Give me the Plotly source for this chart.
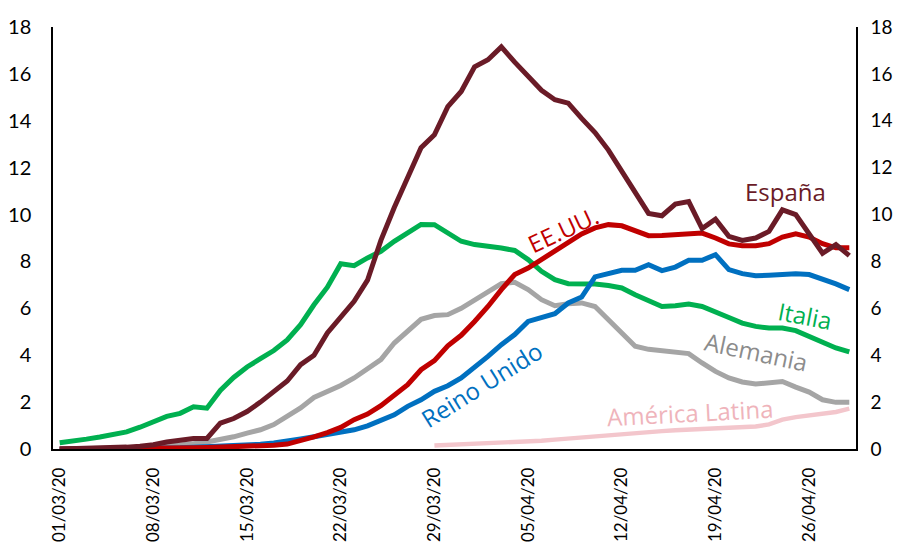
import pandas as pd
import plotly.graph_objects as go

# ---- data ----
dates = pd.date_range("2020-03-01", periods=60, freq="D")

espana = [0.0, 0.01, 0.02, 0.03, 0.05, 0.08, 0.12, 0.18, 0.3, 0.4,
          0.45, 0.45, 1.1, 1.3, 1.6, 2.0, 2.45, 2.9, 3.6, 4.0,
          4.95, 5.6, 6.3, 7.2, 8.9, 10.3, 11.6, 12.85, 13.4, 14.6,
          15.25, 16.3, 16.6, 17.15, 16.5, 15.9, 15.3, 14.9, 14.75, 14.1,
          13.5, 12.75, 11.85, 11.0, 10.05, 9.95, 10.45, 10.55, 9.4, 9.8,
          9.07, 8.9, 9.0, 9.28, 10.2, 10.0, 9.14, 8.35, 8.72, 8.25]

eeuu = [0.0, 0.0, 0.0, 0.0, 0.01, 0.01, 0.02, 0.02, 0.03, 0.04,
        0.05, 0.06, 0.07, 0.09, 0.1, 0.12, 0.16, 0.21, 0.35, 0.52,
        0.7, 0.92, 1.25, 1.49, 1.85, 2.32, 2.74, 3.38, 3.77, 4.4,
        4.85, 5.44, 6.08, 6.8, 7.44, 7.72, 8.08, 8.43, 8.79, 9.17,
        9.43, 9.57, 9.52, 9.31, 9.1, 9.11, 9.14, 9.18, 9.21, 9.0,
        8.75, 8.67, 8.67, 8.76, 9.04, 9.18, 9.04, 8.76, 8.58, 8.58]

italia = [0.27, 0.33, 0.42, 0.51, 0.62, 0.73, 0.93, 1.15, 1.39, 1.52,
          1.8, 1.74, 2.5, 3.05, 3.5, 3.85, 4.2, 4.65, 5.3, 6.15,
          6.9, 7.9, 7.82, 8.15, 8.43, 8.86, 9.21, 9.58, 9.57, 9.2,
          8.86, 8.72, 8.67, 8.57, 8.47, 8.08, 7.58, 7.22, 7.05, 7.05,
          7.04, 6.97, 6.87, 6.58, 6.32, 6.08, 6.11, 6.18, 6.08, 5.87,
          5.61, 5.37, 5.23, 5.16, 5.16, 5.05, 4.8, 4.52, 4.31, 4.14]

alemania = [0.0, 0.0, 0.0, 0.01, 0.02, 0.03, 0.05, 0.08, 0.12, 0.18,
            0.22, 0.3, 0.4, 0.52, 0.68, 0.82, 1.04, 1.39, 1.75, 2.2,
            2.43, 2.71, 3.03, 3.41, 3.81, 4.52, 5.05, 5.53, 5.69, 5.73,
            6.0, 6.37, 6.72, 7.05, 7.11, 6.8, 6.37, 6.11, 6.2, 6.23,
            6.08, 5.52, 4.95, 4.38, 4.25, 4.19, 4.14, 4.07, 3.67, 3.31,
            3.03, 2.86, 2.77, 2.82, 2.88, 2.64, 2.43, 2.1, 1.99, 1.99]

reino_unido = [0.0, 0.0, 0.0, 0.0, 0.01, 0.01, 0.02, 0.03, 0.04, 0.05,
               0.07, 0.09, 0.11, 0.14, 0.17, 0.2, 0.26, 0.32, 0.43, 0.52,
               0.61, 0.71, 0.82, 0.99, 1.25, 1.46, 1.82, 2.1, 2.46, 2.7,
               3.03, 3.46, 3.95, 4.45, 4.88, 5.44, 5.59, 5.77, 6.23, 6.48,
               7.34, 7.48, 7.62, 7.62, 7.86, 7.61, 7.76, 8.05, 8.05, 8.29,
               7.65, 7.48, 7.39, 7.41, 7.44, 7.47, 7.44, 7.25, 7.04, 6.8]

america_latina = [None] * 28 + [
    0.15, 0.17, 0.19, 0.21, 0.24, 0.26, 0.28, 0.31, 0.35, 0.4,
    0.45, 0.5, 0.55, 0.6, 0.64, 0.68, 0.72, 0.76, 0.8, 0.83,
    0.86, 0.88, 0.9, 0.92, 0.96, 1.05, 1.25, 1.36, 1.42, 1.48,
    1.58, 1.72]

y_ticks = list(range(0, 19, 2))

# ---- styles ----
C_ES = "#6A1B27"
C_US = "#C00000"
C_IT = "#00B050"
C_DE = "#A5A5A5"
C_UK = "#0070C0"
C_LA = "#F3C6CC"

fig = go.Figure()

def add(y, color, width=5, yaxis="y"):
    fig.add_trace(go.Scatter(x=dates, y=y, mode="lines",
                             line=dict(color=color, width=width),
                             connectgaps=False, showlegend=False,
                             hoverinfo="skip", yaxis=yaxis))

add(america_latina, C_LA, 4.4, "y2")
add(alemania, C_DE)
add(italia, C_IT)
add(reino_unido, C_UK)
add(eeuu, C_US)
add(espana, C_ES)

ann_font = "Open Sans"
def label(text, day, val, color, angle=0):
    fig.add_annotation(x=day, y=val, xref="x", yref="y", text=text,
                       showarrow=False, textangle=angle,
                       font=dict(family=ann_font, size=24, color=color))

label("España", "2020-04-24 06:00", 11.0, C_ES)
label("EE.UU.", "2020-04-07 14:00", 9.35, C_US, -25)
label("Italia", "2020-04-25 17:00", 5.69, C_IT, 11)
label("Alemania", "2020-04-22 00:00", 4.15, "#8C8C8C", 12)
label("Reino Unido", "2020-04-01 12:00", 2.75, C_UK, -32)
label("América Latina", "2020-04-17 02:00", 1.55, "#EFB4BB", -3)

tick_font = dict(family="Lato", size=20, color="black")

# the page places the figure 8px in from each edge (body margin)
fig.update_layout(
    width=888, height=534,
    margin=dict(l=45, r=40, t=19, b=93, autoexpand=False),
    paper_bgcolor="white", plot_bgcolor="white",
    xaxis=dict(
        type="date", automargin=False,
        range=["2020-02-29 12:00", "2020-04-29 12:00"],
        tick0="2020-03-01", dtick=7 * 24 * 3600 * 1000,
        tickformat="%d/%m/%y", tickangle=-90,
        showgrid=False, zeroline=False,
        showline=True, linecolor="black", linewidth=1.5,
        ticks="", tickfont=dict(family="Lato", size=17, color="black"),
        ticklabelstandoff=10,
    ),
    yaxis=dict(
        range=[0, 18], tickvals=y_ticks, automargin=False,
        showgrid=False, zeroline=False,
        showline=True, linecolor="black", linewidth=1.5,
        ticks="", tickfont=tick_font, ticklabelstandoff=16,
    ),
    yaxis2=dict(
        range=[0, 18], tickvals=y_ticks, overlaying="y", side="right",
        automargin=False,
        showgrid=False, zeroline=False,
        showline=True, linecolor="black", linewidth=1.5,
        ticks="", tickfont=dict(family="Lato", size=19, color="black"),
        ticklabelstandoff=9,
    ),
)

fig.write_html("out.html")
